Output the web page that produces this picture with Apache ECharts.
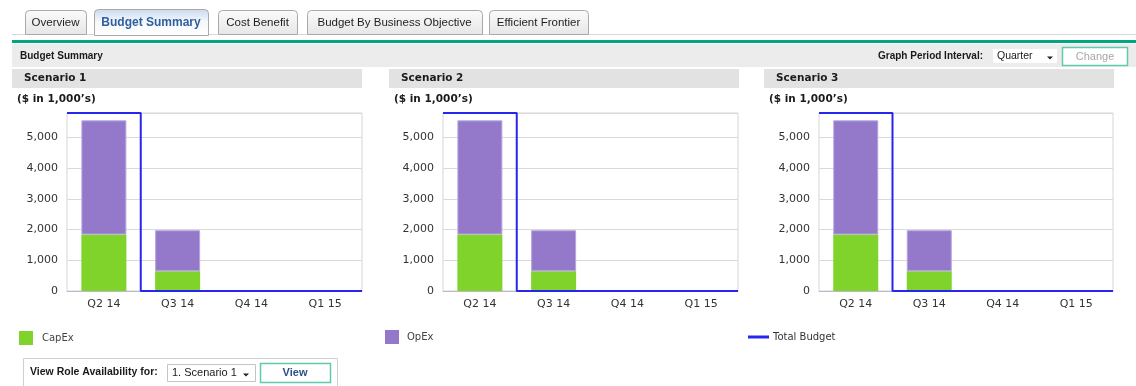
<!DOCTYPE html>
<html>
<head>
<meta charset="utf-8">
<title>Budget Summary</title>
<script src="https://cdn.jsdelivr.net/npm/echarts@6/dist/echarts.min.js"></script>
<style>
  html, body { margin: 0; padding: 0; background: #ffffff; }
  #main { width: 1136px; height: 386px; }
</style>
</head>
<body>
<div id="main"></div>
<script>
// ---- data ($ in 1,000's) ----
const quarters = ['Q2 14', 'Q3 14', 'Q4 14', 'Q1 15'];
const scenarios = ['Scenario 1', 'Scenario 2', 'Scenario 3'];
const capexByScenario = [
  [1840, 640, 0, 0],
  [1840, 640, 0, 0],
  [1840, 640, 0, 0]
];
const opexByScenario = [
  [3720, 1340, 0, 0],
  [3720, 1340, 0, 0],
  [3720, 1340, 0, 0]
];
const budgetByScenario = [
  [5800, 0, 0, 0],
  [5800, 0, 0, 0],
  [5800, 0, 0, 0]
];
const tabs = ['Overview', 'Budget Summary', 'Cost Benefit', 'Budget By Business Objective', 'Efficient Frontier'];
const activeTab = 1;
const legendNames = ['CapEx', 'OpEx', 'Total Budget'];
const yMax = 5800;
const yStep = 1000;

// ---- styling / layout ----
const UI_FONT = '"Liberation Sans", Arial, sans-serif';
const CH_FONT = '"DejaVu Sans", Verdana, sans-serif';
const C_CAPEX = '#7fd32a';
const C_OPEX = '#9479ca';
const C_BUDGET = '#2626ee';
const C_TEAL = '#00a67f';

const tabBox = [[25, 86], [94, 208], [218, 297], [307, 482], [489, 588]];
const plotLeft = [67, 443, 819];
const plotWidth = [295, 295, 294];
const bandLeft = [12, 389, 764];
const PLOT_TOP = 113, PLOT_H = 178;

const chart = echarts.init(document.getElementById('main'));

function txt(x, y, text, font, fill, align) {
  return {
    type: 'text', x: x, y: y, z: 10,
    style: {
      text: text, font: font, fill: fill,
      align: align || 'left', verticalAlign: 'middle',
      textAlign: align || 'left', textVerticalAlign: 'middle'
    }
  };
}
function rect(x, y, w, h, fill, stroke, lw, r) {
  return {
    type: 'rect', z: 5,
    shape: { x: x, y: y, width: w, height: h, r: r || 0 },
    style: { fill: fill, stroke: stroke || null, lineWidth: lw || 0 }
  };
}
function arrow(cx, cy) {
  return {
    type: 'polygon', z: 10,
    shape: { points: [[cx - 3, cy - 1.5], [cx + 3, cy - 1.5], [cx, cy + 1.5]] },
    style: { fill: '#222' }
  };
}

const graphics = [];

// tab strip
graphics.push({
  type: 'line', z: 4,
  shape: { x1: 12, y1: 34.5, x2: 1136, y2: 34.5 },
  style: { stroke: '#d6d6d6', lineWidth: 1 }
});
tabs.forEach(function (name, i) {
  const x0 = tabBox[i][0], x1 = tabBox[i][1];
  const active = i === activeTab;
  graphics.push({
    type: 'rect', z: 6,
    shape: { x: x0 + 0.5, y: active ? 9.5 : 10.5, width: x1 - x0, height: active ? 26 : 24, r: [4, 4, 0, 0] },
    style: {
      fill: active
        ? { type: 'linear', x: 0, y: 0, x2: 0, y2: 1, colorStops: [{ offset: 0, color: '#c9d8ee' }, { offset: 0.45, color: '#f4f7fb' }, { offset: 1, color: '#ffffff' }] }
        : { type: 'linear', x: 0, y: 0, x2: 0, y2: 1, colorStops: [{ offset: 0, color: '#fbfbfb' }, { offset: 1, color: '#e6e6e6' }] },
      stroke: '#a9a9a9', lineWidth: 1
    }
  });
  graphics.push(txt((x0 + x1) / 2, 23, name,
    active ? 'bold 12px ' + UI_FONT : '11.5px ' + UI_FONT,
    active ? '#2e5f9e' : '#1e1e1e', 'center'));
});

// section header
graphics.push(rect(12, 40, 1124, 3, C_TEAL));
graphics.push(rect(12, 44, 1124, 23, '#ececec'));
graphics.push(txt(20, 56, 'Budget Summary', 'bold 10px ' + UI_FONT, '#1a1a1a'));
graphics.push(txt(878, 56, 'Graph Period Interval:', 'bold 10px ' + UI_FONT, '#1a1a1a'));
graphics.push(rect(993, 49, 64, 14, '#ffffff'));
graphics.push(txt(997, 56, 'Quarter', '10.5px ' + UI_FONT, '#1a1a1a'));
graphics.push(arrow(1050, 58));
graphics.push(rect(1062.5, 47.5, 65, 18, '#ffffff', '#62c9b0', 1.5));
graphics.push(txt(1095, 56.5, 'Change', '11px ' + UI_FONT, '#a8a8a8', 'center'));

// scenario panels
scenarios.forEach(function (name, i) {
  graphics.push(rect(bandLeft[i], 69, 350, 19, '#e2e2e2'));
  graphics.push(txt(bandLeft[i] + 12, 78.5, name, 'bold 10.5px ' + CH_FONT, '#1a1a1a'));
  graphics.push(txt(bandLeft[i] + 5, 99.5, "($ in 1,000\u2019s)", 'bold 10.5px ' + CH_FONT, '#1a1a1a'));
});

// role availability box
graphics.push(rect(23.5, 358.5, 314, 40, '#ffffff', '#cfcfcf', 1));
graphics.push(txt(30, 372, 'View Role Availability for:', 'bold 10.5px ' + UI_FONT, '#1a1a1a'));
graphics.push(rect(167.5, 364.5, 88, 17, '#ffffff', '#c4c4c4', 1));
graphics.push(txt(172, 373, '1. Scenario 1', '11px ' + UI_FONT, '#1a1a1a'));
graphics.push(arrow(246, 375));
graphics.push(rect(260.5, 363.5, 70, 19, '#ffffff', '#62c9b0', 1.5));
graphics.push(txt(295, 373, 'View', 'bold 11px ' + UI_FONT, '#2b5288', 'center'));

// ---- chart grids / axes / series ----
const grids = [], xAxes = [], yAxes = [], series = [];
scenarios.forEach(function (name, i) {
  grids.push({
    left: plotLeft[i], top: PLOT_TOP, width: plotWidth[i], height: PLOT_H,
    show: true, borderColor: '#d6d6d6', borderWidth: 1, backgroundColor: 'transparent'
  });
  yAxes.push({
    type: 'value', gridIndex: i, min: 0, max: yMax, interval: yStep,
    axisLine: { show: false }, axisTick: { show: false },
    splitLine: { lineStyle: { color: '#dadada', width: 1 } },
    axisLabel: {
      showMaxLabel: false, margin: 9, color: '#333',
      fontFamily: CH_FONT, fontSize: 11,
      formatter: function (v) { return v.toLocaleString('en-US'); }
    }
  });
});
// category axes for bars
scenarios.forEach(function (name, i) {
  xAxes.push({
    type: 'category', gridIndex: i, data: quarters, boundaryGap: true,
    axisLine: { lineStyle: { color: '#b8b8c8', width: 1 } },
    axisTick: { alignWithLabel: true, length: 5, lineStyle: { color: '#8a8a8a' } },
    axisLabel: { margin: 8, color: '#333', fontFamily: CH_FONT, fontSize: 11 },
    splitLine: { show: false }
  });
});
// hidden linear axes spanning the quarter slots, used by the budget step line
scenarios.forEach(function (name, i) {
  xAxes.push({ type: 'value', gridIndex: i, min: 0, max: quarters.length, show: false });
});

scenarios.forEach(function (name, i) {
  series.push({
    name: 'CapEx', type: 'bar', stack: 'total' + i,
    xAxisIndex: i, yAxisIndex: i, barWidth: 45, z: 3,
    itemStyle: { color: C_CAPEX },
    data: capexByScenario[i]
  });
  series.push({
    name: 'OpEx', type: 'bar', stack: 'total' + i,
    xAxisIndex: i, yAxisIndex: i, barWidth: 45, z: 3,
    itemStyle: { color: C_OPEX, borderColor: '#b4a5df', borderWidth: 1 },
    data: opexByScenario[i]
  });
  const b = budgetByScenario[i];
  const stepPts = b.map(function (v, k) { return [k, v]; }).concat([[quarters.length, b[b.length - 1]]]);
  series.push({
    name: 'Total Budget', type: 'line', step: 'end',
    xAxisIndex: scenarios.length + i, yAxisIndex: i,
    symbol: 'none', clip: false, z: 4,
    itemStyle: { color: C_BUDGET },
    lineStyle: { color: C_BUDGET, width: 2 },
    data: stepPts
  });
});

const legendBase = {
  orient: 'horizontal', padding: 0, selectedMode: false,
  itemStyle: { borderWidth: 0 },
  textStyle: { fontFamily: CH_FONT, fontSize: 10, color: '#444' }
};
const legends = [
  Object.assign({}, legendBase, {
    data: [legendNames[0]], left: 19, top: 331, icon: 'rect', itemWidth: 14, itemHeight: 14,
    textStyle: Object.assign({}, legendBase.textStyle, { padding: [0, 0, 0, 4] })
  }),
  Object.assign({}, legendBase, {
    data: [legendNames[1]], left: 385, top: 330, icon: 'rect', itemWidth: 14, itemHeight: 14,
    textStyle: Object.assign({}, legendBase.textStyle, { padding: [0, 0, 0, 3] })
  }),
  Object.assign({}, legendBase, {
    data: [legendNames[2]], left: 748, top: 332, icon: 'rect', itemWidth: 21, itemHeight: 3,
    textStyle: Object.assign({}, legendBase.textStyle, { color: '#333', padding: [0, 0, 0, -1] })
  })
];

chart.setOption({
  backgroundColor: '#ffffff',
  animation: false,
  graphic: { elements: graphics },
  legend: legends,
  grid: grids,
  xAxis: xAxes,
  yAxis: yAxes,
  series: series
});
</script>
</body>
</html>
